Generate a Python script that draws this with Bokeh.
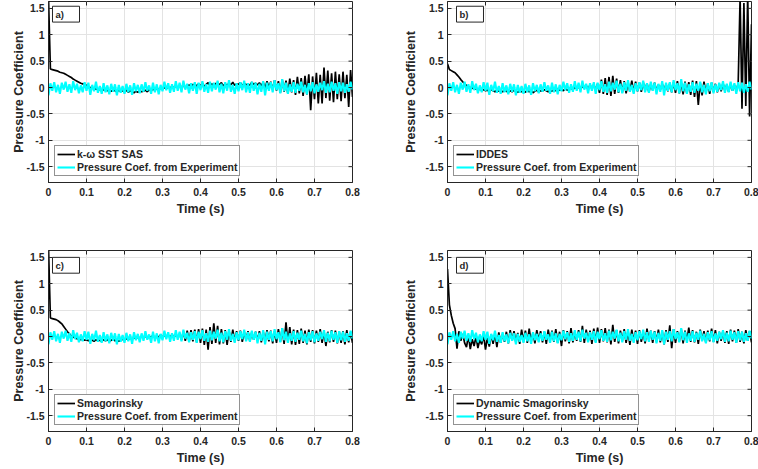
import numpy as np
from bokeh.plotting import figure
from bokeh.layouts import column, row
from bokeh.models import (Legend, LegendItem, FixedTicker, PrintfTickFormatter,
                          Label, Range1d)
from bokeh.embed import file_html
from bokeh.resources import INLINE

# ---------------- data (pressure coefficient x 100, sampled every 0.005 s) ----
time_s = np.linspace(0.0, 0.8, 161)

experiment_x100 = [
    -15, 8, -6, 10, -9, 5, -12, 9, -4, 11,
    -8, 6, -10, 12, -5, 7, -11, 4, -9, 10,
    -6, 9, -14, 5, -7, 11, -10, 3, -12, 8,
    -9, 4, -13, 7, -8, 6, -15, 5, -10, 3,
    -12, 7, -9, 4, -14, 8, -7, 5, -11, 6,
    -8, 10, -6, 4, -12, 9, -9, 6, -13, 5,
    -7, 11, -5, 8, -10, 6, -8, 12, -6, 9,
    -9, 13, -4, 7, -11, 8, -6, 10, -12, 9,
    -5, 12, -8, 6, -10, 11, -7, 9, -4, 13,
    -9, 7, -11, 10, -6, 14, -8, 5, -12, 8,
    -7, 10, -5, 13, -9, 8, -10, 11, -6, 9,
    -13, 7, -8, 12, -15, 9, -6, 10, -9, 14,
    -5, 8, -11, 16, -7, 9, -12, 6, -8, 10,
    -10, 7, -6, 11, -9, 5, -13, 8, -7, 10,
    -11, 6, -8, 9, -5, 12, -10, 7, -9, 11,
    -6, 8, -12, 10, -7, 9, -10, 6, -8, 11,
    -4]

sst_sas_x100 = [
    170, 35, 34, 33, 32, 31, 29, 28, 27, 25,
    23, 21, 19, 16, 14, 12, 10, 8, 7, 6,
    4, 2, 0, -1, -2, -3, -3, -4, -5, -4,
    -5, -6, -4, -7, -5, -6, -8, -5, -7, -6,
    -8, -5, -9, -6, -8, -10, -7, -9, -6, -8,
    -7, -5, -8, -4, -6, -3, -5, -2, -4, -1,
    -3, 0, -2, 1, -1, 2, 0, 3, -1, 2,
    1, 4, 0, 3, 5, 2, 6, 1, 4, 7,
    3, 8, 2, 6, 9, 4, 7, 3, 8, 5,
    6, 9, 3, 7, 4, 8, 5, 10, 4, 7,
    6, 9, 3, 8, 5, 7, 4, 10, 6, 8,
    5, 9, 3, 10, -2, 12, 0, 11, -4, 14,
    -6, 12, -10, 15, -8, 13, -12, 17, -9, 14,
    -14, 20, -11, 18, -16, 22, -13, 25, -43, 21,
    -22, 28, -30, 24, -30, 38, -20, 32, -25, 27,
    -28, 30, -22, 25, -26, 30, -20, 24, -37, 33,
    -18]

iddes_x100 = [
    45, 34, 32, 30, 28, 24, 20, 15, 11, 7,
    4, 2, 0, -1, -3, -2, -4, -3, -5, -4,
    -6, -5, -7, -4, -6, -8, -5, -7, -6, -8,
    -5, -7, -9, -6, -8, -5, -7, -9, -6, -8,
    -7, -9, -5, -8, -6, -10, -7, -5, -8, -6,
    -7, -4, -6, -8, -5, -7, -4, -6, -3, -5,
    -4, -6, -2, -5, -3, -1, -4, 0, -2, 1,
    -3, 2, -1, 4, -4, 5, -2, 6, -5, 7,
    -10, 15, -12, 18, -14, 20, -16, 22, -12, 17,
    -10, 14, -9, 12, -11, 10, -8, 13, -9, 11,
    -7, 9, -8, 10, -6, 8, -9, 7, -5, 9,
    -6, 5, -4, 7, -5, 6, -7, 8, -9, 10,
    -10, 12, -11, 9, -13, 11, -12, 10, -14, 13,
    -18, 12, -33, 9, -15, 11, -10, 8, -12, 9,
    -8, 7, -9, 6, -7, 8, -6, 5, -8, 7,
    -6, 5, -7, 8, 170, -40, 160, -35, 175, -55,
    120]

smagorinsky_x100 = [
    170, 35, 34, 33, 32, 30, 27, 24, 19, 14,
    9, 5, 1, -1, -3, -4, -5, -6, -5, -7,
    -6, -8, -5, -7, -9, -6, -8, -7, -9, -6,
    -8, -6, -9, -7, -5, -8, -6, -9, -7, -5,
    -7, -4, -6, -3, -5, -2, -4, -1, -3, 0,
    -2, 1, -3, 0, -1, 2, -2, 1, -1, 3,
    -1, 2, 0, 3, -2, 4, -1, 2, 0, 5,
    -6, 9, -8, 11, -10, 12, -9, 13, -11, 14,
    -12, 15, -16, 13, -25, 18, -14, 25, -12, 20,
    -15, 14, -13, 12, -16, 11, -10, 13, -9, 10,
    -8, 11, -10, 9, -7, 10, -9, 8, -6, 9,
    -8, 10, -11, 9, -10, 12, -9, 11, -13, 10,
    -12, 14, -10, 16, -14, 27, -11, 18, -15, 13,
    -16, 12, -14, 15, -12, 11, -15, 13, -10, 12,
    -13, 11, -10, 14, -12, 10, -18, 9, -11, 12,
    -10, 11, -13, 9, -12, 10, -15, 12, -11, 8,
    -12]

dynamic_smag_x100 = [
    128, 60, 40, 25, 15, -23, 10, -8, 5, -12,
    -20, 2, -24, -5, -18, 0, -22, -6, -15, 3,
    -25, -2, -19, 4, -14, 6, -20, 8, -12, 5,
    -10, 9, -13, 12, -8, 10, -11, 7, -14, 13,
    -9, 11, -12, 15, -10, 8, -13, 12, -7, 10,
    -11, 9, -14, 13, -8, 11, -10, 14, -12, 9,
    -18, 12, -9, 10, -13, 16, -11, 9, -8, 12,
    -10, 20, -12, 13, -9, 11, -14, 15, -10, 17,
    -12, 14, -9, 16, -11, 13, -15, 22, -10, 12,
    -13, 11, -8, 14, -12, 10, -16, 13, -9, 11,
    -14, 12, -10, 9, -13, 15, -8, 11, -12, 10,
    -9, 13, -11, 10, -15, 12, -10, 21, -22, 14,
    -12, 10, -9, 14, -13, 11, -8, 17, -10, 12,
    -11, 9, -14, 13, -8, 10, -12, 11, -9, 15,
    -10, 12, -13, 9, -8, 11, -12, 10, -14, 13,
    -9, 11, -12, 14, -10, 9, -13, 12, -8, 10,
    -11]

x_ticks = [0, 0.1, 0.2, 0.3, 0.4, 0.5, 0.6, 0.7, 0.8]
y_ticks = [-1.5, -1, -0.5, 0, 0.5, 1, 1.5]

panel_tags = ["a)", "b)", "c)", "d)"]
model_names = ["k-\u03c9 SST SAS", "IDDES", "Smagorinsky", "Dynamic Smagorinsky"]
experiment_name = "Pressure Coef. from Experiment"

FONT = "Liberation Sans"
TXT = "#262626"
X0, X1, Y0, Y1 = 0.0, 0.8, -1.8, 1.63


def make_panel(tag, name, sim_x100, width, height, bl, br, bt, bb, ylab_standoff,
               box_left, box_right, box_bottom, box_top):
    p = figure(width=width, height=height, output_backend="svg", toolbar_location=None,
               x_range=Range1d(X0, X1), y_range=Range1d(Y0, Y1),
               min_border_left=bl, min_border_right=br,
               min_border_top=bt, min_border_bottom=bb)
    p.outline_line_color = "#262626"
    p.outline_line_width = 1
    p.background_fill_color = "white"

    for ax in (p.xaxis[0], p.yaxis[0]):
        ax.major_tick_in = 4
        ax.major_tick_out = 0
        ax.minor_tick_line_color = None
        ax.axis_line_color = "#262626"
        ax.major_tick_line_color = "#262626"
        ax.major_label_text_font = FONT
        ax.major_label_text_font_style = "bold"
        ax.major_label_text_font_size = "10.5px"
        ax.major_label_text_color = TXT
        ax.axis_label_text_font = FONT
        ax.axis_label_text_font_style = "bold"
        ax.axis_label_text_font_size = "12.5px"
        ax.axis_label_text_color = TXT
        ax.formatter = PrintfTickFormatter(format="%g")
    p.xaxis.ticker = FixedTicker(ticks=x_ticks)
    p.yaxis.ticker = FixedTicker(ticks=y_ticks)
    p.xaxis.axis_label = "Time (s)"
    p.yaxis.axis_label = "Pressure Coefficient"
    p.xaxis.major_label_standoff = 5
    p.yaxis.major_label_standoff = 4
    p.xaxis.axis_label_standoff = 3
    p.yaxis.axis_label_standoff = ylab_standoff

    p.xgrid.grid_line_color = "#e3e3e3"
    p.ygrid.grid_line_color = "#e3e3e3"

    sim = np.array(sim_x100) / 100.0
    exp = np.array(experiment_x100) / 100.0
    r_sim = p.line(time_s, sim, line_color="black", line_width=1.7)
    r_exp = p.line(time_s, exp, line_color="#00ffff", line_width=2.1)

    # inward ticks on the top and right edges (box on)
    tx = 4 * (X1 - X0) / 304.0
    ty = 4 * (Y1 - Y0) / 180.0
    p.segment(x0=x_ticks, x1=x_ticks, y0=[Y1] * len(x_ticks), y1=[Y1 - ty] * len(x_ticks),
              line_color="#262626", line_width=1)
    p.segment(x0=[X1] * len(y_ticks), x1=[X1 - tx] * len(y_ticks), y0=y_ticks, y1=y_ticks,
              line_color="#262626", line_width=1)

    legend = Legend(items=[LegendItem(label=name, renderers=[r_sim]),
                           LegendItem(label=experiment_name, renderers=[r_exp])],
                    location="bottom_left")
    legend.margin = 6
    legend.padding = 2
    legend.spacing = 1
    legend.glyph_width = 18
    legend.glyph_height = 12
    legend.label_height = 12
    legend.label_standoff = 2
    legend.label_text_font = FONT
    legend.label_text_font_style = "bold"
    legend.label_text_font_size = "10.5px"
    legend.label_text_color = TXT
    legend.border_line_color = "#262626"
    legend.border_line_width = 1
    legend.background_fill_color = "white"
    legend.background_fill_alpha = 1
    p.add_layout(legend)

    p.quad(left=[box_left], right=[box_right], bottom=[box_bottom], top=[box_top],
           fill_color="white", line_color="#262626", line_width=1)
    p.add_layout(Label(x=box_left + 0.008, y=(box_bottom + box_top) / 2, text=tag,
                       text_font=FONT, text_font_style="bold", text_font_size="9.5px",
                       text_color=TXT, text_baseline="middle", text_align="left"))
    return p


pa = make_panel(panel_tags[0], model_names[0], sst_sas_x100, 379, 234, 48, 27, 1, 52, -3,
                0.0105, 0.0816, 1.24, 1.54)
pb = make_panel(panel_tags[1], model_names[1], iddes_x100, 379, 234, 68, 7, 1, 52, 4,
                0.0237, 0.0947, 1.24, 1.54)
pc = make_panel(panel_tags[2], model_names[2], smagorinsky_x100, 379, 235, 48, 27, 16, 38, -3,
                0.0105, 0.0816, 1.2, 1.5)
pd = make_panel(panel_tags[3], model_names[3], dynamic_smag_x100, 379, 235, 68, 7, 16, 38, 4,
                0.0237, 0.0947, 1.2, 1.5)

layout = column(row(pa, pb), row(pc, pd))
open("out.html", "w").write(file_html(layout, INLINE))
